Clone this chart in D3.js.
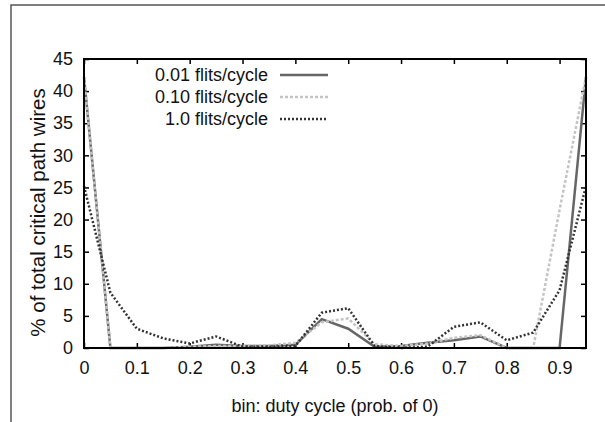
<!DOCTYPE html>
<html>
<head>
<meta charset="utf-8">
<script src="https://cdn.jsdelivr.net/npm/d3@7"></script>
<style>
  body { margin: 0; background: #fff; }
  svg { display: block; font-family: "Liberation Sans", Arial, sans-serif; }
</style>
</head>
<body>
<div class="graph"></div>
<script>
// bins of duty cycle
const bins = [0, 0.05, 0.1, 0.15, 0.2, 0.25, 0.3, 0.35, 0.4, 0.45, 0.5, 0.55, 0.6, 0.65, 0.7, 0.75, 0.8, 0.85, 0.9, 0.95];
// % of total critical path wires, per injection rate
const low  = [42.2, 0, 0, 0, 0.2, 0.5, 0.3, 0.3, 0.5, 4.5, 3.0, 0.2, 0.3, 0.8, 1.2, 1.8, 0, 0, 0, 42.2];
const mid  = [42.2, 0, 0, 0, 0.2, 0.3, 0.3, 0.4, 0.8, 4.0, 4.6, 0.6, 0.3, 0.7, 1.6, 2.0, 0, 0, 21.5, 42.2];
const high = [25.2, 8.6, 3.0, 1.5, 0.7, 1.8, 0.2, 0.2, 0.3, 5.5, 6.2, 0.3, 0, 0.2, 3.3, 4.0, 1.2, 2.4, 9.0, 25.2];
const seriesNames = ['0.01 flits/cycle', '0.10 flits/cycle', '1.0 flits/cycle'];
const xTicks = [0, 0.1, 0.2, 0.3, 0.4, 0.5, 0.6, 0.7, 0.8, 0.9];
const yTicks = [0, 5, 10, 15, 20, 25, 30, 35, 40, 45];

const W = 605, H = 422;
const m = { left: 84, right: 19, top: 59, bottom: 74 };
const pw = W - m.left - m.right, ph = H - m.top - m.bottom;

const svg = d3.select('.graph').append('svg').attr('width', W).attr('height', H);

// outer page border (top and left only visible)
svg.append('path').attr('d', `M11,${H} L11,5 L${W},5`)
  .attr('fill', 'none').attr('stroke', '#555').attr('stroke-width', 1.5);

const x = d3.scaleLinear().domain([0, 0.95]).range([m.left, m.left + pw]);
const y = d3.scaleLinear().domain([0, 45]).range([m.top + ph, m.top]);

const g = svg.append('g');

// axes with inward ticks on all sides
const tick = 5;
g.append('g').attr('transform', `translate(0,${m.top + ph})`)
  .call(d3.axisBottom(x).tickValues(xTicks).tickSize(-tick).tickPadding(13).tickFormat(d => d === 0 ? '0' : d3.format('.1f')(d)));
g.append('g').attr('transform', `translate(0,${m.top})`)
  .call(d3.axisTop(x).tickValues(xTicks).tickSize(-tick).tickFormat(''));
g.append('g').attr('transform', `translate(${m.left},0)`)
  .call(d3.axisLeft(y).tickValues(yTicks).tickSize(-tick).tickPadding(11));
g.append('g').attr('transform', `translate(${m.left + pw},0)`)
  .call(d3.axisRight(y).tickValues(yTicks).tickSize(-tick).tickFormat(''));

g.selectAll('.domain').remove();
g.selectAll('.tick line').attr('stroke', '#000').attr('stroke-width', 1.5);
g.selectAll('.tick text').attr('font-size', 18).attr('fill', '#111')
  .attr('font-family', '"Liberation Sans", Arial, sans-serif');

const line = d3.line().x((d, i) => x(bins[i])).y(d => y(d));

const styles = [
  { data: low,  stroke: '#666', dash: null, w: 2.5 },
  { data: mid,  stroke: '#c4c4c4', dash: '3,2', w: 2.5 },
  { data: high, stroke: '#333', dash: '2,2', w: 2.5 }
];

styles.forEach(s => {
  svg.append('path').datum(s.data).attr('d', line)
    .attr('fill', 'none').attr('stroke', s.stroke).attr('stroke-width', s.w)
    .attr('stroke-dasharray', s.dash);
});

// frame
svg.append('rect').attr('x', m.left).attr('y', m.top).attr('width', pw).attr('height', ph)
  .attr('fill', 'none').attr('stroke', '#000').attr('stroke-width', 2);

// legend
const leg = svg.append('g');
styles.forEach((s, i) => {
  const ly = 75 + i * 22;
  leg.append('text').attr('x', 268).attr('y', ly).attr('dy', '0.35em')
    .attr('text-anchor', 'end').attr('font-size', 18).attr('fill', '#111').text(seriesNames[i]);
  leg.append('line').attr('x1', 280).attr('x2', 328).attr('y1', ly).attr('y2', ly)
    .attr('stroke', s.stroke).attr('stroke-width', s.w).attr('stroke-dasharray', s.dash);
});

// axis titles
svg.append('text').attr('x', x(0.475)).attr('y', 412).attr('text-anchor', 'middle')
  .attr('font-size', 18).attr('fill', '#111').text('bin: duty cycle (prob. of 0)');
svg.append('text').attr('transform', `translate(45,${m.top + ph / 2 + 9}) rotate(-90)`)
  .attr('text-anchor', 'middle').attr('font-size', 20.5).attr('fill', '#111')
  .text('% of total critical path wires');
</script>
</body>
</html>
